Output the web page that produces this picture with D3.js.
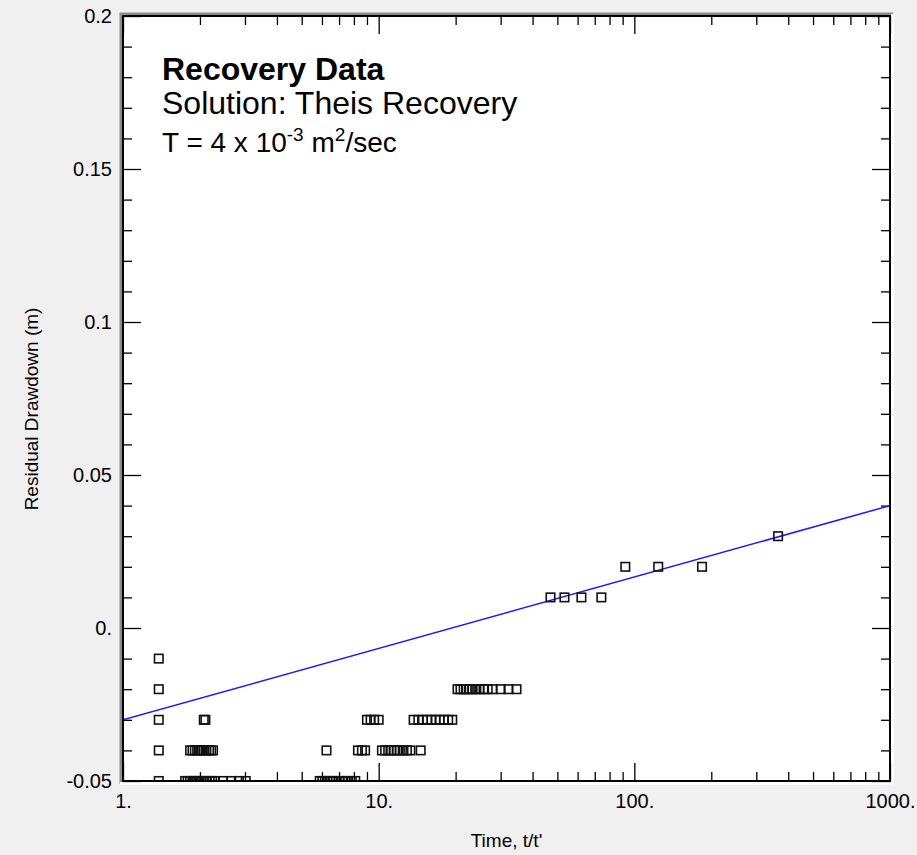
<!DOCTYPE html>
<html>
<head>
<meta charset="utf-8">
<script src="https://d3js.org/d3.v7.min.js"></script>
<style>
  html, body { margin: 0; padding: 0; background: #f0f0f0; }
  svg { display: block; font-family: Arial, "Liberation Sans", sans-serif; }
</style>
</head>
<body>
<svg id="chart" width="917" height="855"></svg>
<script>
// Recovery data: t/t' values grouped by residual drawdown level (m)
const tAtM005 = [1.38, 1.75, 1.79, 1.83, 1.87, 1.91, 1.95, 1.99, 2.03, 2.08, 2.13, 2.18, 2.23, 2.29,
                 2.46, 2.65, 2.84, 3.02, 5.88, 6.02, 6.16, 6.3, 6.45, 6.6, 6.8, 7.0, 7.2, 7.4, 7.6, 7.85, 8.1];
const tAtM004 = [1.38, 1.83, 1.87, 1.91, 1.95, 1.99, 2.03, 2.07, 2.12, 2.17, 2.21, 2.25, 6.25, 8.3, 8.6, 8.85,
                 10.3, 10.6, 10.9, 11.2, 11.5, 11.8, 12.1, 12.5, 12.9, 13.3, 14.6];
const tAtM003 = [1.38, 2.07, 2.1, 9.0, 9.3, 9.6, 10.0, 13.7, 14.3, 14.9, 15.5, 16.1, 16.7, 17.3, 18.0, 18.7, 19.4];
const tAtM002 = [1.38, 20.35, 20.9, 21.5, 22.1, 22.7, 23.3, 24.1, 24.8, 25.7, 26.7, 27.9, 30.0, 32.2, 34.6];
const tAtM001 = [1.38];
const tAtP001 = [47.0, 53.3, 62.1, 74.3];
const tAtP002 = [92.2, 124, 184];
const tAtP003 = [365];

const levels = [-0.05, -0.04, -0.03, -0.02, -0.01, 0.01, 0.02, 0.03];
const levelT = [tAtM005, tAtM004, tAtM003, tAtM002, tAtM001, tAtP001, tAtP002, tAtP003];

// Theis recovery fit line
const fitT = [1, 1000];
const fitS = [-0.03, 0.04];

const xTicks = [1, 10, 100, 1000];
const xTickLabels = ['1.', '10.', '100.', '1000.'];
const yTicks = [-0.05, 0, 0.05, 0.1, 0.15, 0.2];
const yTickLabels = ['-0.05', '0.', '0.05', '0.1', '0.15', '0.2'];

const points = [];
levels.forEach((s, i) => levelT[i].forEach(t => points.push({ t, s })));

const pL = 123, pR = 890, pT = 16, pB = 781;
const svg = d3.select('#chart');

const x = d3.scaleLog().domain([1, 1000]).range([pL, pR]);
const y = d3.scaleLinear().domain([-0.05, 0.2]).range([pB, pT]);

// sunken frame
svg.append('rect').attr('x', pL).attr('y', pT)
    .attr('width', pR - pL).attr('height', pB - pT).attr('fill', '#fff');
svg.append('path').attr('d', `M${pL - 2},${pB + 3}V${pT - 2}H${pR + 3}`)
    .attr('fill', 'none').attr('stroke', '#8c8c8c').attr('stroke-width', 3);
svg.append('path').attr('d', `M${pR + 2.5},${pT - 2}V${pB + 2.5}H${pL - 3}`)
    .attr('fill', 'none').attr('stroke', '#fff').attr('stroke-width', 3);

svg.append('clipPath').attr('id', 'plotclip')
    .append('rect').attr('x', pL).attr('y', pT)
    .attr('width', pR - pL).attr('height', pB - pT);

const minorX = x.ticks().filter(v => !xTicks.includes(v));
const minorY = d3.range(-4, 20).map(i => +(i * 0.01).toFixed(2))
    .filter(v => !yTicks.some(t => Math.abs(t - v) < 1e-9));

const styleAxis = g => {
    g.select('.domain').remove();
    g.selectAll('line').attr('stroke', '#000').attr('stroke-width', 1.3);
    g.selectAll('text').attr('fill', '#000').attr('font-size', 20);
};

// bottom axis (labels + major ticks)
svg.append('g').attr('transform', `translate(0,${pB})`)
    .call(d3.axisBottom(x).tickValues(xTicks).tickSize(-18).tickPadding(13)
        .tickFormat((d, i) => xTickLabels[i]))
    .call(styleAxis);
svg.append('g').attr('transform', `translate(0,${pB})`)
    .call(d3.axisBottom(x).tickValues(minorX).tickSize(-9).tickFormat(''))
    .call(styleAxis);
// top axis
svg.append('g').attr('transform', `translate(0,${pT})`)
    .call(d3.axisTop(x).tickValues(xTicks).tickSize(-18).tickFormat(''))
    .call(styleAxis);
svg.append('g').attr('transform', `translate(0,${pT})`)
    .call(d3.axisTop(x).tickValues(minorX).tickSize(-9).tickFormat(''))
    .call(styleAxis);
// left axis
svg.append('g').attr('transform', `translate(${pL},0)`)
    .call(d3.axisLeft(y).tickValues(yTicks).tickSize(-18).tickPadding(11)
        .tickFormat((d, i) => yTickLabels[i]))
    .call(styleAxis);
svg.append('g').attr('transform', `translate(${pL},0)`)
    .call(d3.axisLeft(y).tickValues(minorY).tickSize(-9).tickFormat(''))
    .call(styleAxis);
// right axis
svg.append('g').attr('transform', `translate(${pR},0)`)
    .call(d3.axisRight(y).tickValues(yTicks).tickSize(-18).tickFormat(''))
    .call(styleAxis);
svg.append('g').attr('transform', `translate(${pR},0)`)
    .call(d3.axisRight(y).tickValues(minorY).tickSize(-9).tickFormat(''))
    .call(styleAxis);

const plot = svg.append('g').attr('clip-path', 'url(#plotclip)');

// fit line
plot.append('path')
    .datum(fitT.map((t, i) => [t, fitS[i]]))
    .attr('d', d3.line().x(d => x(d[0])).y(d => y(d[1])))
    .attr('fill', 'none').attr('stroke', '#1a1aff').attr('stroke-width', 1.5);

// observations
const sq = 8.5;
plot.selectAll('rect.obs').data(points).join('rect')
    .attr('class', 'obs')
    .attr('x', d => x(d.t) - sq / 2).attr('y', d => y(d.s) - sq / 2)
    .attr('width', sq).attr('height', sq)
    .attr('fill', 'none').attr('stroke', '#111').attr('stroke-width', 1.6);

// black frame line
svg.append('rect').attr('x', pL).attr('y', pT)
    .attr('width', pR - pL).attr('height', pB - pT)
    .attr('fill', 'none').attr('stroke', '#000').attr('stroke-width', 2);

// annotation
const note = svg.append('g').attr('font-size', 32).attr('fill', '#000');
note.append('text').attr('x', 162).attr('y', 80).attr('font-weight', 'bold').text('Recovery Data');
note.append('text').attr('x', 162).attr('y', 114).text('Solution: Theis Recovery');
const tLine = note.append('text').attr('x', 162).attr('y', 152).attr('font-size', 28);
tLine.append('tspan').text('T = 4 x 10');
tLine.append('tspan').attr('font-size', 19).attr('dy', -11).text('-3');
tLine.append('tspan').attr('dy', 11).text(' m');
tLine.append('tspan').attr('font-size', 19).attr('dy', -11).text('2');
tLine.append('tspan').attr('dy', 11).text('/sec');

// axis titles
svg.append('text').attr('x', (pL + pR) / 2).attr('y', 847)
    .attr('text-anchor', 'middle').attr('font-size', 19).text("Time, t/t'");
svg.append('text').attr('transform', 'translate(38,409) rotate(-90)')
    .attr('text-anchor', 'middle').attr('font-size', 19).text('Residual Drawdown (m)');
</script>
</body>
</html>
